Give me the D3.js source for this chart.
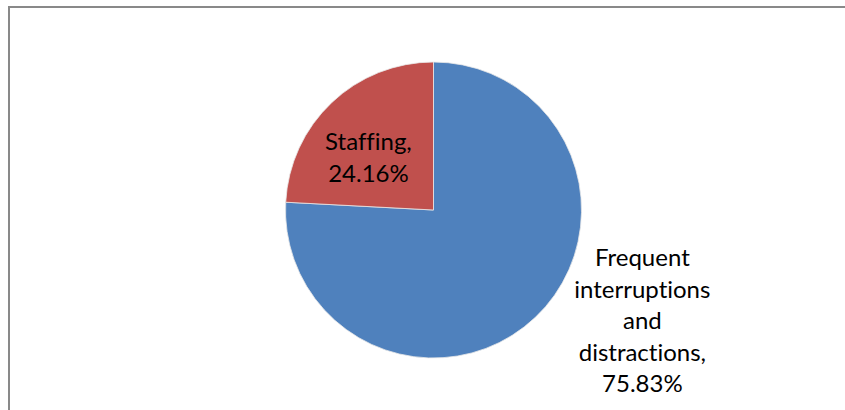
<!DOCTYPE html>
<html>
<head>
<meta charset="utf-8">
<script src="https://cdn.jsdelivr.net/npm/d3@7"></script>
<style>
  body { margin: 0; background: #fff; }
  svg { display: block; }
</style>
</head>
<body>
<div id="viz"></div>
<script>
const categories = ['Frequent interruptions and distractions', 'Staffing'];
const values = [75.83, 24.16];
const labelLines = [
  ['Frequent', 'interruptions', 'and', 'distractions,', '75.83%'],
  ['Staffing,', '24.16%']
];
const colors = ['#4F81BD', '#C0504D'];

const width = 845, height = 410;
const cx = 433.5, cy = 210, radius = 148;
const lineH = 31.5;

const svg = d3.select('#viz').append('svg')
  .attr('width', width)
  .attr('height', height);

// chart area border (runs off the right and bottom edges)
svg.append('rect')
  .attr('x', 9)
  .attr('y', 7)
  .attr('width', width + 20)
  .attr('height', height + 20)
  .attr('fill', 'none')
  .attr('stroke', '#898989')
  .attr('stroke-width', 2);

const pie = d3.pie().sort(null).value(d => d.value);
const data = pie(categories.map((c, i) => ({ name: c, value: values[i], lines: labelLines[i] })));

const arc = d3.arc().innerRadius(0).outerRadius(radius);

const g = svg.append('g').attr('transform', `translate(${cx},${cy})`);

g.selectAll('path')
  .data(data)
  .enter().append('path')
  .attr('d', arc)
  .attr('fill', (d, i) => colors[i])
  .attr('stroke', '#e8e8e8')
  .attr('stroke-width', 0.8);

const insideArc = d3.arc().innerRadius(radius * 0.57).outerRadius(radius * 0.57);
const edgeArc = d3.arc().innerRadius(radius).outerRadius(radius);

const labels = g.selectAll('text.label')
  .data(data)
  .enter().append('text')
  .attr('class', 'label')
  .attr('text-anchor', 'middle')
  .style('font-family', 'Lato, "Open Sans", sans-serif')
  .style('font-size', '24px')
  .style('font-variant-ligatures', 'none')
  .style('font-feature-settings', '"liga" 0, "clig" 0')
  .style('fill', '#000');

labels.each(function(d, i) {
  let x, y;
  if (i === 0) {
    // outside label, block placed right of the slice edge
    const [ex, ey] = edgeArc.centroid(d);
    x = ex + 107;
    y = ey + 4;
  } else {
    [x, y] = insideArc.centroid(d);
    x -= 7;
    y += 9;
  }
  const n = d.data.lines.length;
  d3.select(this).selectAll('tspan')
    .data(d.data.lines)
    .enter().append('tspan')
    .attr('x', x)
    .attr('y', (l, j) => y + (j - (n - 1) / 2) * lineH + 8)
    .text(l => l);
});
</script>
</body>
</html>
